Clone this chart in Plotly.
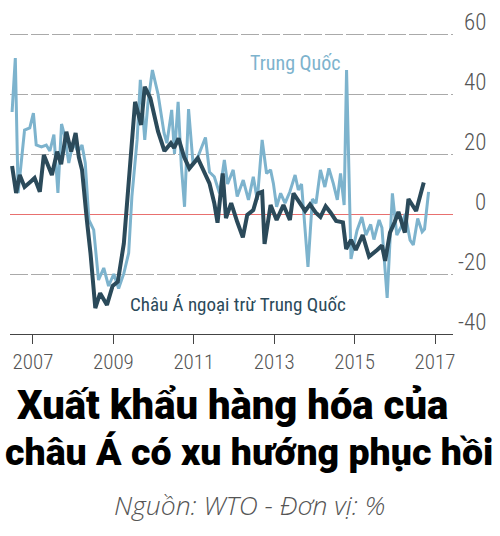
import plotly.graph_objects as go

# ---- data ----
china_year = [2006.48, 2006.56, 2006.63, 2006.79, 2006.92, 2007.01, 2007.08, 2007.21, 2007.33, 2007.42,
              2007.52, 2007.62, 2007.71, 2007.79, 2007.89, 2008.00, 2008.12, 2008.22, 2008.30, 2008.39,
              2008.51, 2008.63, 2008.76, 2008.88, 2009.01, 2009.13, 2009.26, 2009.38, 2009.46, 2009.59,
              2009.67, 2009.78, 2009.86, 2009.97, 2010.11, 2010.26, 2010.33, 2010.45, 2010.52, 2010.61,
              2010.69, 2010.77, 2010.87, 2010.98, 2011.10, 2011.29, 2011.39, 2011.51, 2011.64, 2011.76,
              2011.84, 2011.98, 2012.08, 2012.23, 2012.36, 2012.48, 2012.58, 2012.70, 2012.81, 2012.91,
              2012.98, 2013.06, 2013.16, 2013.27, 2013.39, 2013.52, 2013.60, 2013.68, 2013.84, 2013.95,
              2014.04, 2014.15, 2014.26, 2014.36, 2014.47, 2014.57, 2014.65, 2014.74, 2014.80, 2014.91,
              2015.06, 2015.18, 2015.28, 2015.40, 2015.48, 2015.61, 2015.68, 2015.81, 2015.94, 2016.05,
              2016.16, 2016.26, 2016.38, 2016.46, 2016.57, 2016.68, 2016.74, 2016.84]
china_value = [34, 52, 7, 28, 28.7, 33.6, 23, 22.4, 23, 21,
               26.5, 7, 30, 26, 17, 24, 20.7, 23, 17, -2,
               -5.3, -22, -18, -24, -20, -24.8, -19.8, -13, 5.8, 24.7,
               44.7, 24.7, 37, 48, 40, 27, 23.6, 34.7, 20, 37.4,
               16, 2.4, 35, 17, 19, 25.5, 14, 12.4, 6.9, 18,
               10, 14.7, 5.8, 11.3, 4.7, 12.4, 4.7, 24.7, 13.5, 14.7,
               10.2, 2.4, 6.9, 3.6, 7.4, 13, 8, 10, -17.6, 5,
               3.6, 14.7, 9, 15.2, 10.2, 4.7, 13.5, 3, 48, -15,
               -5.5, -1, -7, -3.5, -8.5, -2, -4.6, -28, 6.9, -7,
               -4.2, 0, -8.7, -10.3, -1.5, -5.9, -5, 7.4]

asia_year = [2006.48, 2006.58, 2006.67, 2006.79, 2006.96, 2007.04, 2007.17, 2007.27, 2007.47, 2007.60,
             2007.70, 2007.83, 2007.95, 2008.06, 2008.14, 2008.22, 2008.34, 2008.43, 2008.55, 2008.67,
             2008.84, 2008.98, 2009.11, 2009.26, 2009.54, 2009.69, 2009.78, 2009.92, 2010.11, 2010.27,
             2010.43, 2010.51, 2010.62, 2010.76, 2010.89, 2011.01, 2011.10, 2011.39, 2011.51, 2011.59,
             2011.72, 2011.80, 2011.93, 2012.08, 2012.22, 2012.33, 2012.48, 2012.60, 2012.70, 2012.76,
             2012.91, 2013.06, 2013.23, 2013.39, 2013.48, 2013.64, 2013.77, 2013.89, 2014.03, 2014.15,
             2014.28, 2014.40, 2014.54, 2014.71, 2014.79, 2014.91, 2015.03, 2015.20, 2015.36, 2015.56,
             2015.68, 2015.76, 2015.88, 2016.00, 2016.09, 2016.25, 2016.34, 2016.53, 2016.72]
asia_value = [16, 7, 13, 9, 11, 12, 7.4, 19.7, 13, 20.8,
              16.6, 27.4, 20.8, 27, 19, 14.7, -2, -13, -31.4, -26.4,
              -30.3, -24, -22.6, -9.8, 37.4, 29.7, 42.4, 38.6, 27.5, 21,
              23.6, 22, 25.2, 19, 15.2, 17.4, 18.6, 10.2, 3.6, -2.9,
              13.5, -1.4, 3.6, -2.6, -7.8, -0.3, 1.3, 6.9, 7.4, -10,
              3, -2, 3, -2, 6.9, 3.6, 1, 3.2, 0.5, -1,
              2.6, 0.5, -2.3, -2.8, -11.7, -8.6, -12, -7, -14.2, -12,
              -10.5, -15.6, -6.2, -2.6, 0.7, -6.2, 5, 1, 10.5]

x_ticks = [2007, 2009, 2011, 2013, 2015, 2017]
y_ticks = [-40, -20, 0, 20, 40, 60]

name_china = "Trung Quốc"
name_asia = "Châu Á ngoại trừ Trung Quốc"
title_1 = "Xuất khẩu hàng hóa của"
title_2 = "châu Á có xu hướng phục hồi"
source = "Nguồn: WTO - Đơn vị: %"

LIGHT = "#7db3cd"
DARK = "#2b4a5a"
GREY = "#555555"
NARROW = "Roboto Condensed, DejaVu Sans Condensed, sans-serif"
HEAVY = "Roboto, Roboto Condensed, sans-serif"

fig = go.Figure()
fig.add_trace(go.Scatter(x=china_year, y=china_value, mode="lines",
                         line=dict(color=LIGHT, width=3), showlegend=False, hoverinfo="skip"))
fig.add_trace(go.Scatter(x=asia_year, y=asia_value, mode="lines",
                         line=dict(color=DARK, width=4), showlegend=False, hoverinfo="skip"))

# y tick labels: right-aligned, sitting just above each gridline
for v in y_ticks:
    fig.add_annotation(xref="paper", yref="y", x=1, y=v, text=str(v), showarrow=False,
                       xanchor="right", yanchor="bottom", yshift=-4,
                       font=dict(family=NARROW, size=23, color=GREY, weight=300))

fig.add_annotation(x=2013.52, y=50.5, text=name_china, showarrow=False,
                   xanchor="center", yanchor="middle",
                   font=dict(family=NARROW, size=20, color=LIGHT))
fig.add_annotation(x=2012.10, y=-30, text=name_asia, showarrow=False,
                   xanchor="center", yanchor="middle",
                   font=dict(family=NARROW, size=19, color=DARK))

fig.add_annotation(xref="paper", yref="paper", x=0.4655, y=-0.2375, text=title_1, showarrow=False,
                   xanchor="center", yanchor="middle",
                   font=dict(family=HEAVY, size=40, color="#000", weight=900))
fig.add_annotation(xref="paper", yref="paper", x=0.501, y=-0.39, text=title_2, showarrow=False,
                   xanchor="center", yanchor="middle",
                   font=dict(family=HEAVY, size=37.5, color="#000", weight=900))
fig.add_annotation(xref="paper", yref="paper", x=0.501, y=-0.565, text=source, showarrow=False,
                   xanchor="center", yanchor="middle",
                   font=dict(family="Open Sans", size=26.5, color=GREY, style="italic", weight=300))

fig.update_layout(
    width=500, height=536,
    margin=dict(l=10, r=12, t=31, b=202, autoexpand=False),
    paper_bgcolor="white", plot_bgcolor="white",
    xaxis=dict(range=[2006.428, 2017.448], domain=[0, 0.9268], automargin=False,
               tickvals=x_ticks, ticktext=[str(t) for t in x_ticks],
               ticks="outside", ticklen=9, tickcolor="#444", tickwidth=1,
               showline=True, linecolor="#444", linewidth=1.2,
               showgrid=False, zeroline=False,
               tickfont=dict(family=NARROW, size=21, color=GREY, weight=300)),
    yaxis=dict(range=[-40, 61], tickvals=y_ticks, showticklabels=False, automargin=False,
               showgrid=True, gridcolor="#aaaaaa", gridwidth=1, griddash="18px,3px",
               zeroline=True, zerolinecolor="#e8706f", zerolinewidth=1.2),
)

fig.write_html("out.html", config={"displayModeBar": False},
               post_script="document.body.style.margin='0';document.body.style.padding='0';")
